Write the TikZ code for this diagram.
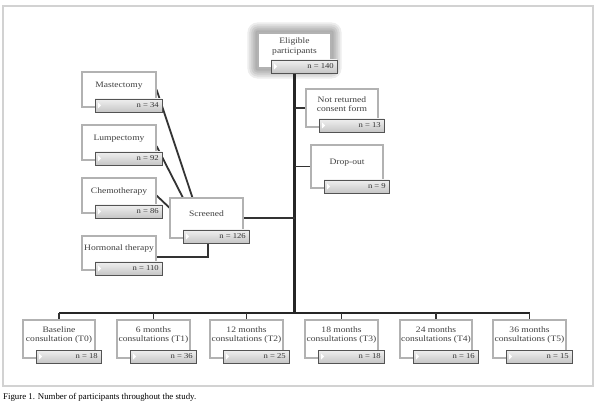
\documentclass[tikz,border=0pt]{standalone}
\usepackage{fontspec}
\setmainfont{Liberation Serif}
\newfontfamily\boxfont[FakeStretch=1.15]{Liberation Serif}
\usetikzlibrary{fit,calc,backgrounds}
\newcommand\flowbox[7]{%
  \node[boxst, fit={(#2,#3) (#4,#5)}] (#1) {};
  \node[barst, fit={(#2+13,#5-8) (#4+6,#5+5)}] (#1n) {};
  \fill[white] (#2+16,#5-4.5) -- (#2+19,#5-1.5) -- (#2+16,#5+1.5) -- cycle;
  \node[lbl] (#1t) at ({(#2+#4)/2},{(#3+#5-8)/2}) {#6};
  \node[nlbl] (#1v) at (#4+3,#5-1.5) {n = #7};
}
\begin{document}
\begin{tikzpicture}[x=1pt,y=-1pt,
  boxst/.style={draw=gray!60, line width=1.1pt, fill=white, inner sep=0pt},
  barst/.style={draw=gray!65!black, line width=0.8pt, top color=gray!12, bottom color=gray!45, inner sep=0pt},
  lbl/.style={font=\boxfont\fontsize{8.3}{9.3}\selectfont, text=black!75, align=center, inner sep=0pt},
  nlbl/.style={font=\boxfont\fontsize{7.5}{9}\selectfont, text=black!80, inner sep=0pt, anchor=east},
  conn/.style={draw=black!80, line width=1.8pt},
  trunkst/.style={draw=black!85, line width=2.6pt}]
\useasboundingbox (0,0) rectangle (598,409);

% boxes
\flowbox{elig}{258}{33}{331}{68}{Eligible\\participants}{140}
\flowbox{notret}{306}{89}{378}{127}{Not returned\\consent form}{13}
\flowbox{drop}{311}{145}{383}{188}{Drop-out}{9}
\flowbox{mast}{82}{72}{156}{107}{Mastectomy}{34}
\flowbox{lump}{82}{125}{156}{160}{Lumpectomy}{92}
\flowbox{chemo}{82}{178}{156}{213}{Chemotherapy}{86}
\flowbox{horm}{82}{236}{156}{270}{Hormonal therapy}{110}
\flowbox{scr}{170}{198}{243}{238}{Screened}{126}
\flowbox{b0}{23}{320}{95}{358}{Baseline\\consultation (T0)}{18}
\flowbox{b1}{117}{320}{190}{358}{6 months\\consultations (T1)}{36}
\flowbox{b2}{210}{320}{283}{358}{12 months\\consultations (T2)}{25}
\flowbox{b3}{305}{320}{378}{358}{18 months\\consultations (T3)}{18}
\flowbox{b4}{400}{320}{472}{358}{24 months\\consultations (T4)}{16}
\flowbox{b5}{493}{320}{566}{358}{36 months\\consultations (T5)}{15}

\node[font=\fontsize{8.8}{10}\selectfont, anchor=west, inner sep=0pt] (cap) at (3,397) {Figure 1. Number of participants throughout the study.};

\coordinate (bus) at (295,313);
\coordinate (hj) at (208,257);

\begin{scope}[on background layer]
  \fill[white] (0,0) rectangle (598,409);
  \draw[gray!35, line width=1.2pt] (3,6) rectangle (593,386);
  \foreach \i in {2,4,...,10}
    \fill[black, opacity=0.07, rounded corners=\i pt] ($(elig.north west)+(-\i,-\i)$) rectangle ($(elig.south east)+(\i,\i)$);
  \draw[trunkst] (elig.south) -- (elig.south |- bus);
  \draw[trunkst] (b0.north |- bus) -- (b5.north |- bus);
  \foreach \b in {b0,b1,b2,b3,b4,b5}
    \draw[conn] (\b.north) -- (\b.north |- bus);
  \draw[conn] (notret.west) -- (notret.west -| elig.south);
  \draw[conn] (drop.west) -- (drop.west -| elig.south);
  \draw[conn] (scr.east) -- (scr.east -| elig.south);
  \draw[conn] (horm.east |- hj) -- (hj) -- (hj |- scrn.south);
  \draw[conn] (chemo.east) -- ($(scr.north west)!0.25!(scr.south west)$);
  \draw[conn] ($(lump.north east)!0.6!(lump.south east)$) -- ($(scr.north west)!0.18!(scr.north east)$);
  \draw[conn] ($(mast.north east)!0.5!(mast.south east)$) -- ($(scr.north west)!0.31!(scr.north east)$);
\end{scope}
\end{tikzpicture}
\end{document}
